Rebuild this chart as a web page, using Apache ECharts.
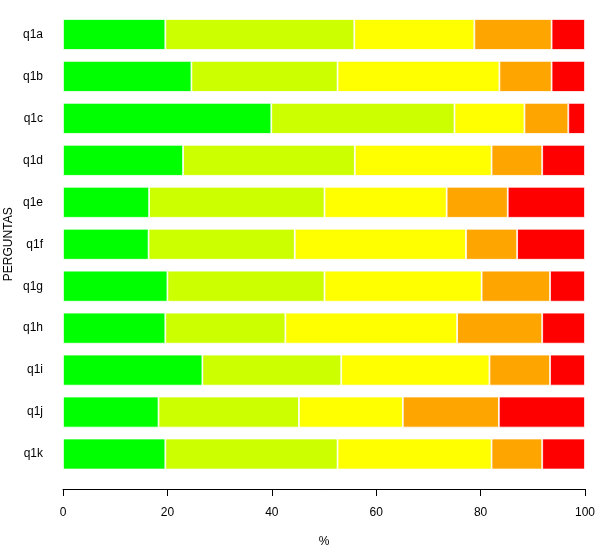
<!DOCTYPE html>
<html>
<head>
<meta charset="utf-8">
<script src="https://cdn.jsdelivr.net/npm/echarts@6/dist/echarts.min.js"></script>
<style>html,body{margin:0;padding:0;background:#fff;}#c{width:600px;height:546px;}</style>
</head>
<body>
<div id="c"></div>
<script>
var categories = ['q1a','q1b','q1c','q1d','q1e','q1f','q1g','q1h','q1i','q1j','q1k'];
var seg1 = [19.6, 24.6, 39.9, 23.0, 16.5, 16.4, 20.0, 19.6, 26.7, 18.3, 19.6];
var seg2 = [36.2, 28.0, 35.1, 32.9, 33.6, 28.0, 30.1, 23.0, 26.6, 26.9, 33.0];
var seg3 = [23.0, 31.0, 13.4, 26.2, 23.4, 32.8, 30.1, 32.9, 28.4, 19.9, 29.5];
var seg4 = [14.8, 10.0, 8.4, 9.7, 11.7, 9.8, 13.1, 16.3, 11.6, 18.4, 9.7];
var seg5 = [6.4, 6.4, 3.2, 8.2, 14.8, 13.0, 6.7, 8.2, 6.7, 16.5, 8.2];
var xTicks = [0, 20, 40, 60, 80, 100];

var colors = ['#00FF00', '#CCFF00', '#FFFF00', '#FFA500', '#FF0000'];
var segs = [seg1, seg2, seg3, seg4, seg5];
var font = 'Liberation Sans, Arial, sans-serif';

var chart = echarts.init(document.getElementById('c'), null, {renderer: 'canvas'});
chart.setOption({
  animation: false,
  backgroundColor: '#fff',
  grid: {left: 63, right: 15, top: 13.5, height: 461.5, containLabel: false, outerBoundsMode: 'none'},
  xAxis: {
    type: 'value', min: 0, max: 100, interval: 20, offset: 14,
    name: '%', nameLocation: 'middle', nameGap: 47,
    nameTextStyle: {color: '#000', fontSize: 12, fontFamily: font},
    axisLine: {show: true, lineStyle: {color: '#000', width: 1}},
    axisTick: {show: true, length: 7, lineStyle: {color: '#000'}},
    axisLabel: {color: '#000', fontSize: 12, fontFamily: font, margin: 18,
      formatter: function (v) { return xTicks.indexOf(v) >= 0 ? String(v) : ''; }},
    splitLine: {show: false}
  },
  yAxis: {
    type: 'category', data: categories, inverse: true,
    name: 'PERGUNTAS', nameLocation: 'middle', nameGap: 48, nameMoveOverlap: false,
    nameTextStyle: {color: '#000', fontSize: 12, fontFamily: font},
    axisLine: {show: false}, axisTick: {show: false},
    axisLabel: {color: '#000', fontSize: 12, fontFamily: font, margin: 20}
  },
  series: segs.map(function (d, i) {
    return {
      type: 'bar', stack: 'total', data: d, barWidth: 31,
      itemStyle: {color: colors[i], borderColor: '#fff', borderWidth: 0.8},
      emphasis: {disabled: true}
    };
  })
});
</script>
</body>
</html>
